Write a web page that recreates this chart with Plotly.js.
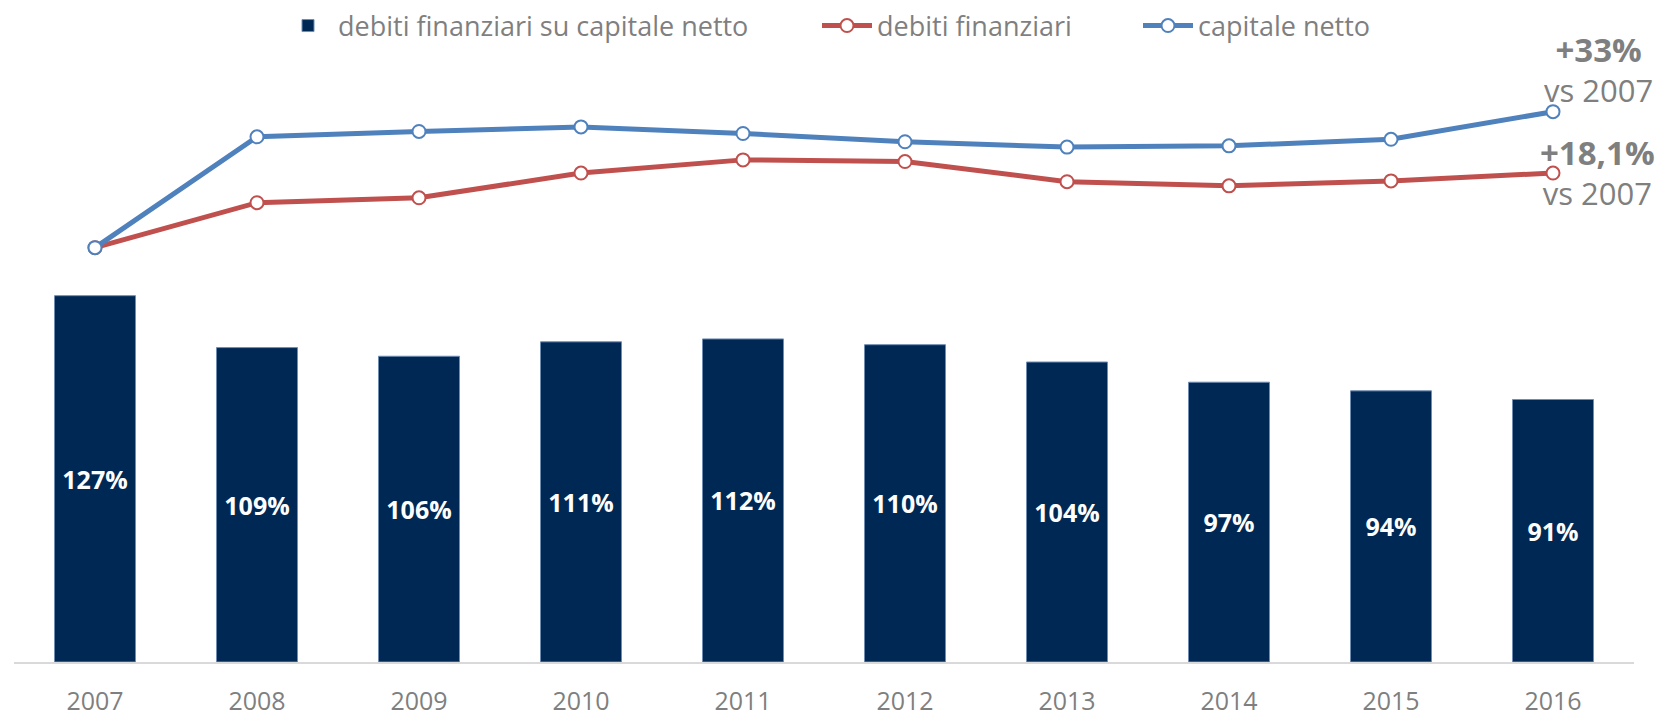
<!DOCTYPE html>
<html>
<head>
<meta charset="utf-8">
<script src="https://cdn.plot.ly/plotly-3.0.1.min.js"></script>
<style>
  html, body { margin: 0; padding: 0; background: #ffffff; }
  #chart { width: 1660px; height: 716px; }
</style>
</head>
<body>
<div id="chart"></div>
<script>
// ---- data ----
const years = ['2007', '2008', '2009', '2010', '2011', '2012', '2013', '2014', '2015', '2016'];
const ratioDebtEquity = [127, 109, 106, 111, 112, 110, 104, 97, 94, 91];          // %
const debitiFinanziari = [100, 110.9, 112.1, 118.1, 121.3, 120.9, 116.0, 115.0, 116.2, 118.1]; // index 2007 = 100
const capitaleNetto   = [100, 126.9, 128.2, 129.3, 127.7, 125.7, 124.4, 124.7, 126.3, 133.0];  // index 2007 = 100
const barLabels = ratioDebtEquity.map(v => v + '%');
const seriesNames = ['debiti finanziari su capitale netto', 'debiti finanziari', 'capitale netto'];
const noteCapitale = ['+33%', 'vs 2007'];
const noteDebiti = ['+18,1%', 'vs 2007'];

const FONT = 'Open Sans, Liberation Sans, Arial, sans-serif';
const GRAY = '#7f7f7f';
const NAVY = '#002855';
const RED = '#C0504D';
const BLUE = '#4F81BD';

const traces = [
  {
    type: 'bar',
    name: seriesNames[0],
    x: years,
    y: ratioDebtEquity,
    text: barLabels,
    textposition: 'inside',
    insidetextanchor: 'middle',
    textangle: 0,
    textfont: { family: FONT, size: 25, color: '#ffffff', weight: 'bold' },
    marker: { color: NAVY, line: { color: '#6f8db3', width: 1 } },
    hoverinfo: 'x+y',
    yaxis: 'y',
    legend: 'legend'
  },
  {
    type: 'scatter',
    mode: 'lines+markers',
    name: seriesNames[1],
    x: years,
    y: debitiFinanziari,
    line: { color: RED, width: 5 },
    marker: { symbol: 'circle', size: 13, color: '#ffffff', line: { color: RED, width: 2 } },
    yaxis: 'y2',
    legend: 'legend2'
  },
  {
    type: 'scatter',
    mode: 'lines+markers',
    name: seriesNames[2],
    x: years,
    y: capitaleNetto,
    line: { color: BLUE, width: 5 },
    marker: { symbol: 'circle', size: 13, color: '#ffffff', line: { color: BLUE, width: 2 } },
    yaxis: 'y2',
    legend: 'legend3'
  }
];

const plotH = 662;
function py(px) { return 1 - px / plotH; }
function px2x(px) { return (px - 14) / 1620; }

function legendAt(xpx) {
  return {
    orientation: 'h',
    x: px2x(xpx),
    xanchor: 'left',
    y: py(26),
    yanchor: 'middle',
    font: { family: FONT, size: 27, color: GRAY },
    itemwidth: 50,
    bgcolor: 'rgba(0,0,0,0)'
  };
}

function note(lines, xpx, ypx) {
  return {
    xref: 'paper', yref: 'paper', x: px2x(xpx), y: py(ypx),
    xanchor: 'center', yanchor: 'middle', align: 'center', showarrow: false,
    text: '<span style="font-size:33px"><b>' + lines[0] + '</b></span><br>' + lines[1],
    font: { family: FONT, size: 31, color: GRAY }
  };
}

const layout = {
  width: 1660,
  height: 716,
  margin: { l: 14, r: 26, t: 0, b: 54, pad: 0 },
  paper_bgcolor: '#ffffff',
  plot_bgcolor: '#ffffff',
  font: { family: FONT, color: GRAY },
  showlegend: true,
  bargap: 0.5,
  legend: legendAt(278),
  legend2: legendAt(817),
  legend3: legendAt(1138),
  xaxis: {
    type: 'category',
    range: [-0.5, 9.5],
    showgrid: false,
    zeroline: false,
    showline: true,
    linecolor: '#d9d9d9',
    linewidth: 2,
    ticks: '',
    ticklabelstandoff: 16,
    tickfont: { family: FONT, size: 25, color: GRAY },
    fixedrange: true
  },
  yaxis: {
    range: [0, 229.5],
    visible: false,
    fixedrange: true
  },
  yaxis2: {
    range: [-0.56, 160.1],
    overlaying: 'y',
    side: 'right',
    visible: false,
    fixedrange: true
  },
  annotations: [
    note(noteCapitale, 1598, 69),
    note(noteDebiti, 1597, 172)
  ]
};

Plotly.newPlot('chart', traces, layout, { displayModeBar: false, responsive: false });
</script>
</body>
</html>
